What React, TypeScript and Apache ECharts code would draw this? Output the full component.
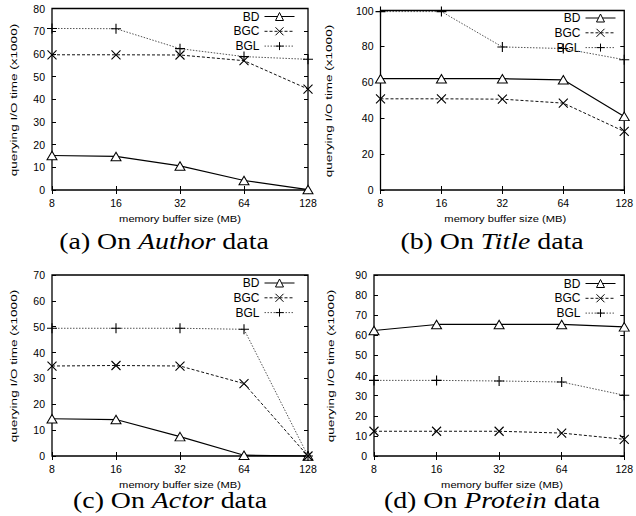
import React, { useEffect, useRef } from "react";
import * as echarts from "echarts";

const categories = ["8", "16", "32", "64", "128"];

const authorBD = [15.2, 14.8, 10.6, 4.2, 0.2];
const authorBGC = [59.6, 59.6, 59.5, 57.0, 44.5];
const authorBGL = [71.2, 71.1, 62.3, 58.8, 57.6];

const titleBD = [62.0, 62.0, 62.0, 61.4, 41.0];
const titleBGC = [50.8, 50.8, 50.6, 48.4, 32.6];
const titleBGL = [99.4, 99.4, 79.7, 78.8, 72.6];

const actorBD = [14.4, 14.1, 7.5, 0.3, 0];
const actorBGC = [34.8, 35.0, 34.8, 28.0, 0];
const actorBGL = [49.4, 49.4, 49.4, 49.0, 0];

const proteinBD = [62.4, 65.4, 65.4, 65.4, 64.2];
const proteinBGC = [12.3, 12.3, 12.3, 11.4, 8.3];
const proteinBGL = [37.6, 37.6, 37.3, 36.8, 30.2];

const seriesNames = ["BD", "BGC", "BGL"];
const xTitle = "memory buffer size (MB)";
const yTitle = "querying I/O time (x1000)";

const panelMeta = [
  { tag: "(a) On ", name: "Author", data: [authorBD, authorBGC, authorBGL], max: 80, interval: 10 },
  { tag: "(b) On ", name: "Title", data: [titleBD, titleBGC, titleBGL], max: 100, interval: 20 },
  { tag: "(c) On ", name: "Actor", data: [actorBD, actorBGC, actorBGL], max: 70, interval: 10 },
  { tag: "(d) On ", name: "Protein", data: [proteinBD, proteinBGC, proteinBGL], max: 90, interval: 10 },
];

// layout (pixels)
const grids = [
  { left: 52, top: 8.5, width: 256, height: 181.5 },
  { left: 380.5, top: 10.5, width: 249.5, height: 179.5 },
  { left: 52, top: 275, width: 256, height: 181 },
  { left: 374, top: 275, width: 256, height: 181 },
];
const legendPos = [
  { right: 341, top: 10.5 },
  { right: 20, top: 12 },
  { right: 341, top: 277 },
  { right: 20, top: 277.5 },
];
const captionPos = [
  { x: 164, y: 241 },
  { x: 492, y: 241 },
  { x: 170, y: 500 },
  { x: 492, y: 500 },
];
const yTitlePos = [
  { x: 13.5, y: 100 },
  { x: 329, y: 101 },
  { x: 13.5, y: 366 },
  { x: 331, y: 366 },
];

const SANS = "Liberation Sans, Arial, sans-serif";
const SERIF = "Liberation Serif, Times New Roman, serif";

const trianglePath = "path://M5,0L10,8.5L0,8.5Z";
const crossPath = "path://M0,0L10,10M10,0L0,10";
const plusPath = "path://M5,0L5,10M0,5L10,5";

const seriesStyles = [
  {
    symbol: trianglePath,
    symbolSize: [10, 8.5],
    lineStyle: { color: "#000", width: 1.2, type: "solid" as const },
    itemStyle: { color: "#fff", borderColor: "#000", borderWidth: 1 },
  },
  {
    symbol: crossPath,
    symbolSize: 9,
    lineStyle: { color: "#111", width: 1, type: [3, 2] },
    itemStyle: { color: "#000", borderColor: "#000", borderWidth: 1.1 },
  },
  {
    symbol: plusPath,
    symbolSize: 10,
    lineStyle: { color: "#555", width: 1, type: [1.5, 1.5] },
    itemStyle: { color: "#000", borderColor: "#000", borderWidth: 1.1 },
  },
];

export default function App() {
  const ref = useRef<HTMLDivElement>(null);

  useEffect(() => {
    if (!ref.current) return;
    const chart = echarts.init(ref.current, undefined, { renderer: "svg" });

    const grid: any[] = [];
    const xAxis: any[] = [];
    const yAxis: any[] = [];
    const series: any[] = [];
    const legend: any[] = [];
    const graphic: any[] = [];

    panelMeta.forEach((p, i) => {
      const g = grids[i];
      grid.push({
        ...g,
        show: true,
        borderColor: "#000",
        borderWidth: 1.3,
        backgroundColor: "transparent",
        containLabel: false,
      });
      const tick = { show: true, inside: true, length: 4, lineStyle: { color: "#000", width: 1 } };
      xAxis.push({
        type: "category",
        gridIndex: i,
        data: categories,
        boundaryGap: false,
        position: "bottom",
        axisLine: { show: false },
        axisTick: tick,
        axisLabel: { color: "#000", fontSize: 10.5, fontFamily: SANS, margin: 7 },
        splitLine: { show: false },
      });
      xAxis.push({
        type: "category",
        gridIndex: i,
        data: categories,
        boundaryGap: false,
        position: "top",
        axisLine: { show: false },
        axisTick: tick,
        axisLabel: { show: false },
        splitLine: { show: false },
      });
      yAxis.push({
        type: "value",
        gridIndex: i,
        min: 0,
        max: p.max,
        interval: p.interval,
        position: "left",
        axisLine: { show: false },
        axisTick: tick,
        axisLabel: { color: "#000", fontSize: 10.5, fontFamily: SANS, margin: 7 },
        splitLine: { show: false },
      });
      yAxis.push({
        type: "value",
        gridIndex: i,
        min: 0,
        max: p.max,
        interval: p.interval,
        position: "right",
        axisLine: { show: false },
        axisTick: tick,
        axisLabel: { show: false },
        splitLine: { show: false },
      });

      p.data.forEach((vals, k) => {
        series.push({
          type: "line",
          name: seriesNames[k],
          xAxisIndex: 2 * i,
          yAxisIndex: 2 * i,
          data: vals,
          clip: false,
          ...seriesStyles[k],
          z: 3 + k,
        });
      });

      legend.push({
        data: seriesNames,
        orient: "vertical",
        align: "right",
        right: legendPos[i].right,
        top: legendPos[i].top,
        padding: 0,
        itemWidth: 30,
        itemHeight: 10,
        itemGap: 2.8,
        selectedMode: false,
        itemStyle: { borderWidth: 1 },
        lineStyle: { width: 1 },
        textStyle: { color: "#000", fontSize: 12, fontFamily: SANS, lineHeight: 10 },
      });

      graphic.push({
        type: "text",
        x: g.left + g.width / 2,
        y: g.top + g.height + 29,
        scaleX: 1.24,
        style: {
          text: xTitle,
          fontSize: 9,
          fontFamily: SANS,
          fill: "#000",
          align: "center",
          verticalAlign: "middle",
        },
      });
      graphic.push({
        type: "text",
        x: yTitlePos[i].x,
        y: yTitlePos[i].y,
        rotation: Math.PI / 2,
        scaleX: 1.5,
        style: {
          text: yTitle,
          fontSize: 9,
          fontFamily: SANS,
          fill: "#000",
          align: "center",
          verticalAlign: "middle",
        },
      });
      graphic.push({
        type: "text",
        x: captionPos[i].x,
        y: captionPos[i].y,
        scaleX: 1.16,
        style: {
          text: p.tag + "{i|" + p.name + "} data",
          fontSize: 24,
          fontFamily: SERIF,
          fill: "#000",
          align: "center",
          verticalAlign: "middle",
          rich: {
            i: { fontStyle: "italic", fontSize: 24, fontFamily: SERIF, fill: "#000" },
          },
        },
      });
    });

    chart.setOption({
      animation: false,
      backgroundColor: "#fff",
      grid,
      xAxis,
      yAxis,
      series,
      legend,
      graphic,
    });

    return () => chart.dispose();
  }, []);

  return (
    <div
      ref={ref}
      style={{ position: "absolute", left: 0, top: 0, width: 636, height: 516 }}
    />
  );
}
